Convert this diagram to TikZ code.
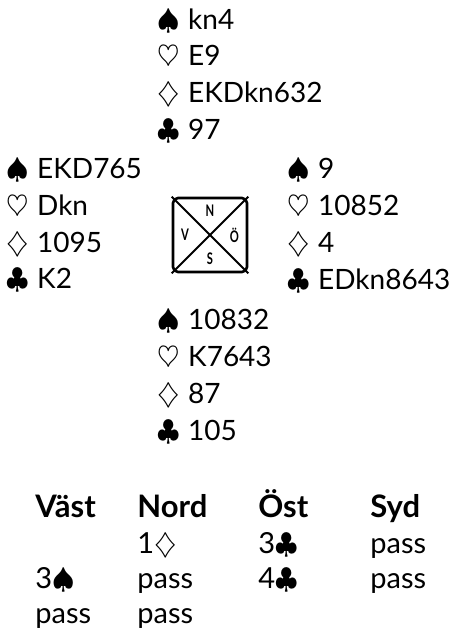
\documentclass[tikz,border=0pt]{standalone}
\usepackage{fontspec}
\setmainfont{Lato}
\usetikzlibrary{positioning}

% suit symbols
\newcommand{\sSp}{$\spadesuit$\hspace{0.3em}}
\newcommand{\sHe}{$\heartsuit$\hspace{0.3em}}
\newcommand{\sDi}{$\diamondsuit$\hspace{0.3em}}
\newcommand{\sCl}{$\clubsuit$\hspace{0.3em}}

\begin{document}
\begin{tikzpicture}[
    x=0.5pt, y=-0.5pt,
    hand/.style={anchor=north west, inner sep=0pt, align=left, font=\fontsize{14}{18.4}\selectfont},
    compass/.style={draw, line width=1.3pt, rounded corners=2.5pt, minimum size=37pt, inner sep=0pt},
    seat/.style={inner sep=0pt, font=\fontsize{8}{8}\selectfont\bfseries},
    bid/.style={anchor=base west, inner sep=0pt, font=\fontsize{14.5}{16}\selectfont},
    bidhead/.style={bid, font=\fontsize{15.5}{16}\selectfont\bfseries}
]
\useasboundingbox (0,0) rectangle (451,637);

% Hands
\node[hand] (north) at (157, 8)  {\sSp kn4\\ \sHe E9\\ \sDi EKDkn632\\ \sCl 97};
\node[hand] (west)  at (6, 158)  {\sSp EKD765\\ \sHe Dkn\\ \sDi 1095\\ \sCl K2};
\node[hand] (east)  at (287, 158) {\sSp 9\\ \sHe 10852\\ \sDi 4\\ \sCl EDkn8643};
\node[hand] (south) at (157, 309) {\sSp 10832\\ \sHe K7643\\ \sDi 87\\ \sCl 105};

% Compass box
\node[compass] (deal) at (210, 235) {};
\draw[line width=1pt] (deal.north west) -- (deal.south east);
\draw[line width=1pt] (deal.north east) -- (deal.south west);
\node[seat, below=4pt of deal.north] (seatN) {\scalebox{0.7}[1]{N}};
\node[seat, above=4pt of deal.south] (seatS) {\scalebox{0.7}[1]{S}};
\node[seat, right=4.5pt of deal.west] (seatV) {\scalebox{0.7}[1]{V}};
\node[seat, left=4.5pt of deal.east]  (seatO) {\scalebox{0.7}[1]{Ö}};

% Bidding
\node[bidhead] (hV) at (35, 517)  {Väst};
\node[bidhead] (hN) at (137, 517) {Nord};
\node[bidhead] (hO) at (258, 517) {Öst};
\node[bidhead] (hS) at (370, 517) {Syd};

\node[bid] (b1) at (137, 553) {1$\diamondsuit$};
\node[bid] (b2) at (258, 553) {3$\clubsuit$};
\node[bid] (b3) at (370, 553) {pass};
\node[bid] (b4) at (35, 588)  {3$\spadesuit$};
\node[bid] (b5) at (137, 588) {pass};
\node[bid] (b6) at (258, 588) {4$\clubsuit$};
\node[bid] (b7) at (370, 588) {pass};
\node[bid] (b8) at (35, 623)  {pass};
\node[bid] (b9) at (137, 623) {pass};

\end{tikzpicture}
\end{document}
